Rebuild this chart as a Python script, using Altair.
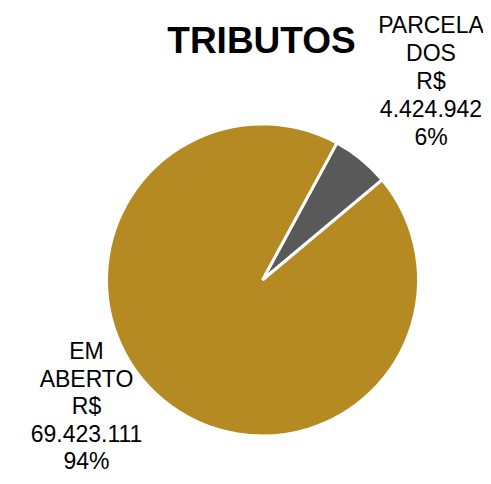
import math
import altair as alt
import pandas as pd

categories = ["PARCELADOS", "EM ABERTO"]
values = [4424942, 69423111]
percents = ["6%", "94%"]
colors = ["#595959", "#B58A22"]

df = pd.DataFrame({"cat": categories, "value": values, "ord": [0, 1]})

start = math.radians(28.5)

pie = alt.Chart(df).mark_arc(stroke="white", strokeWidth=3, radius=156).encode(
    theta=alt.Theta("value:Q", stack=True, scale=alt.Scale(range=[start, start + 2 * math.pi])),
    color=alt.Color("cat:N", scale=alt.Scale(domain=categories, range=colors), legend=None),
    order=alt.Order("ord:Q"),
    x=alt.value(254.5),
    y=alt.value(272),
)

def fmt(v):
    return f"{v:,}".replace(",", ".")

lab1 = alt.Chart(pd.DataFrame({"t": [["PARCELA", "DOS", "R$", fmt(values[0]), percents[0]]]})).mark_text(
    font="Liberation Sans", fontSize=23, lineHeight=28, align="center", baseline="alphabetic", color="black"
).encode(text="t", x=alt.value(423), y=alt.value(25))

lab2 = alt.Chart(pd.DataFrame({"t": [["EM", "ABERTO", "R$", fmt(values[1]), percents[1]]]})).mark_text(
    font="Liberation Sans", fontSize=23, lineHeight=27.5, align="center", baseline="alphabetic", color="black"
).encode(text="t", x=alt.value(78.5), y=alt.value(351))

title = alt.Chart(pd.DataFrame({"t": ["TRIBUTOS"]})).mark_text(
    font="Liberation Sans", fontSize=37, fontWeight="bold", align="center", baseline="alphabetic", color="black"
).encode(text="t", x=alt.value(253.5), y=alt.value(45))

chart = alt.layer(pie, lab1, lab2, title).properties(
    width=475, height=468, autosize=alt.AutoSizeParams(type="none"), padding=0
).configure_view(stroke=None)

chart.save("out.html", embed_options={"renderer": "svg", "actions": False})
